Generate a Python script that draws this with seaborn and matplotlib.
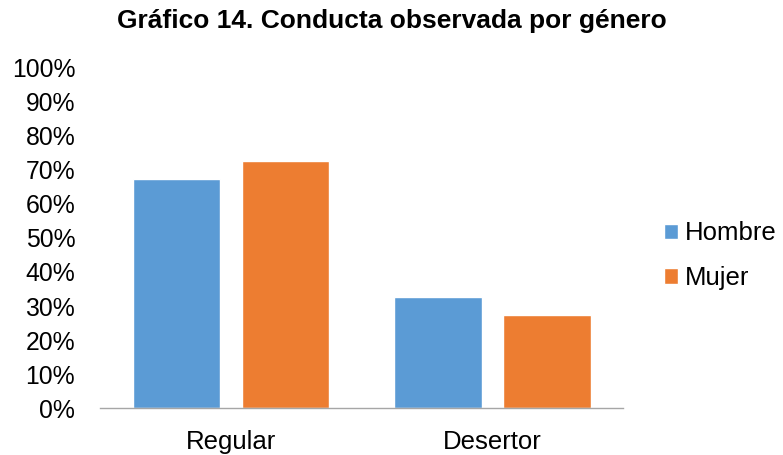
import pandas as pd
import seaborn as sns
from matplotlib import pyplot as plt
from matplotlib.patches import Patch

categorias = ["Regular", "Desertor"]
generos = ["Hombre", "Mujer"]
hombre = [67.3, 32.7]
mujer = [72.6, 27.4]
colores = ["#5b9bd5", "#ed7d31"]

df = pd.DataFrame({
    "categoria": categorias * 2,
    "genero": ["Hombre"] * 2 + ["Mujer"] * 2,
    "valor": hombre + mujer,
})

sns.set_style("white")
plt.rcParams["font.family"] = ["Liberation Sans", "DejaVu Sans"]
plt.rcParams["text.color"] = "black"

fig = plt.figure(figsize=(7.83, 4.55), dpi=100)
ax = fig.add_axes([0.128, 0.103, 0.668, 0.748])

sns.barplot(data=df, x="categoria", y="valor", hue="genero", order=categorias,
            hue_order=generos, palette=colores, width=0.835, gap=0.2,
            saturation=1, ax=ax, legend=False)

ax.set_ylim(0, 100)
ax.set_xlim(-0.5, 1.5)
ax.set_yticks(range(0, 101, 10))
ax.set_yticklabels(["%d%%" % v for v in range(0, 101, 10)])
ax.tick_params(axis="both", length=0, colors="black")
ax.tick_params(axis="y", pad=18, labelsize=17.8)
ax.tick_params(axis="x", pad=16, labelsize=18.5)
ax.set_xlabel("")
ax.set_ylabel("")
for s in ["top", "right", "left"]:
    ax.spines[s].set_visible(False)
ax.spines["bottom"].set_color("#a6a6a6")
ax.spines["bottom"].set_linewidth(1)

fig.suptitle("Gráfico 14. Conducta observada por género", fontsize=19,
             fontweight="bold", x=0.50, y=0.98, color="black")

handles = [Patch(facecolor=c, label=g) for c, g in zip(colores, generos)]
fig.legend(handles=handles, loc="center left", bbox_to_anchor=(0.831, 0.438),
           frameon=False, fontsize=18.5, handlelength=0.55, handleheight=0.55,
           handletextpad=0.3, labelspacing=0.8, borderpad=0,
           labelcolor="black")

plt.savefig("out.png", dpi=100)
